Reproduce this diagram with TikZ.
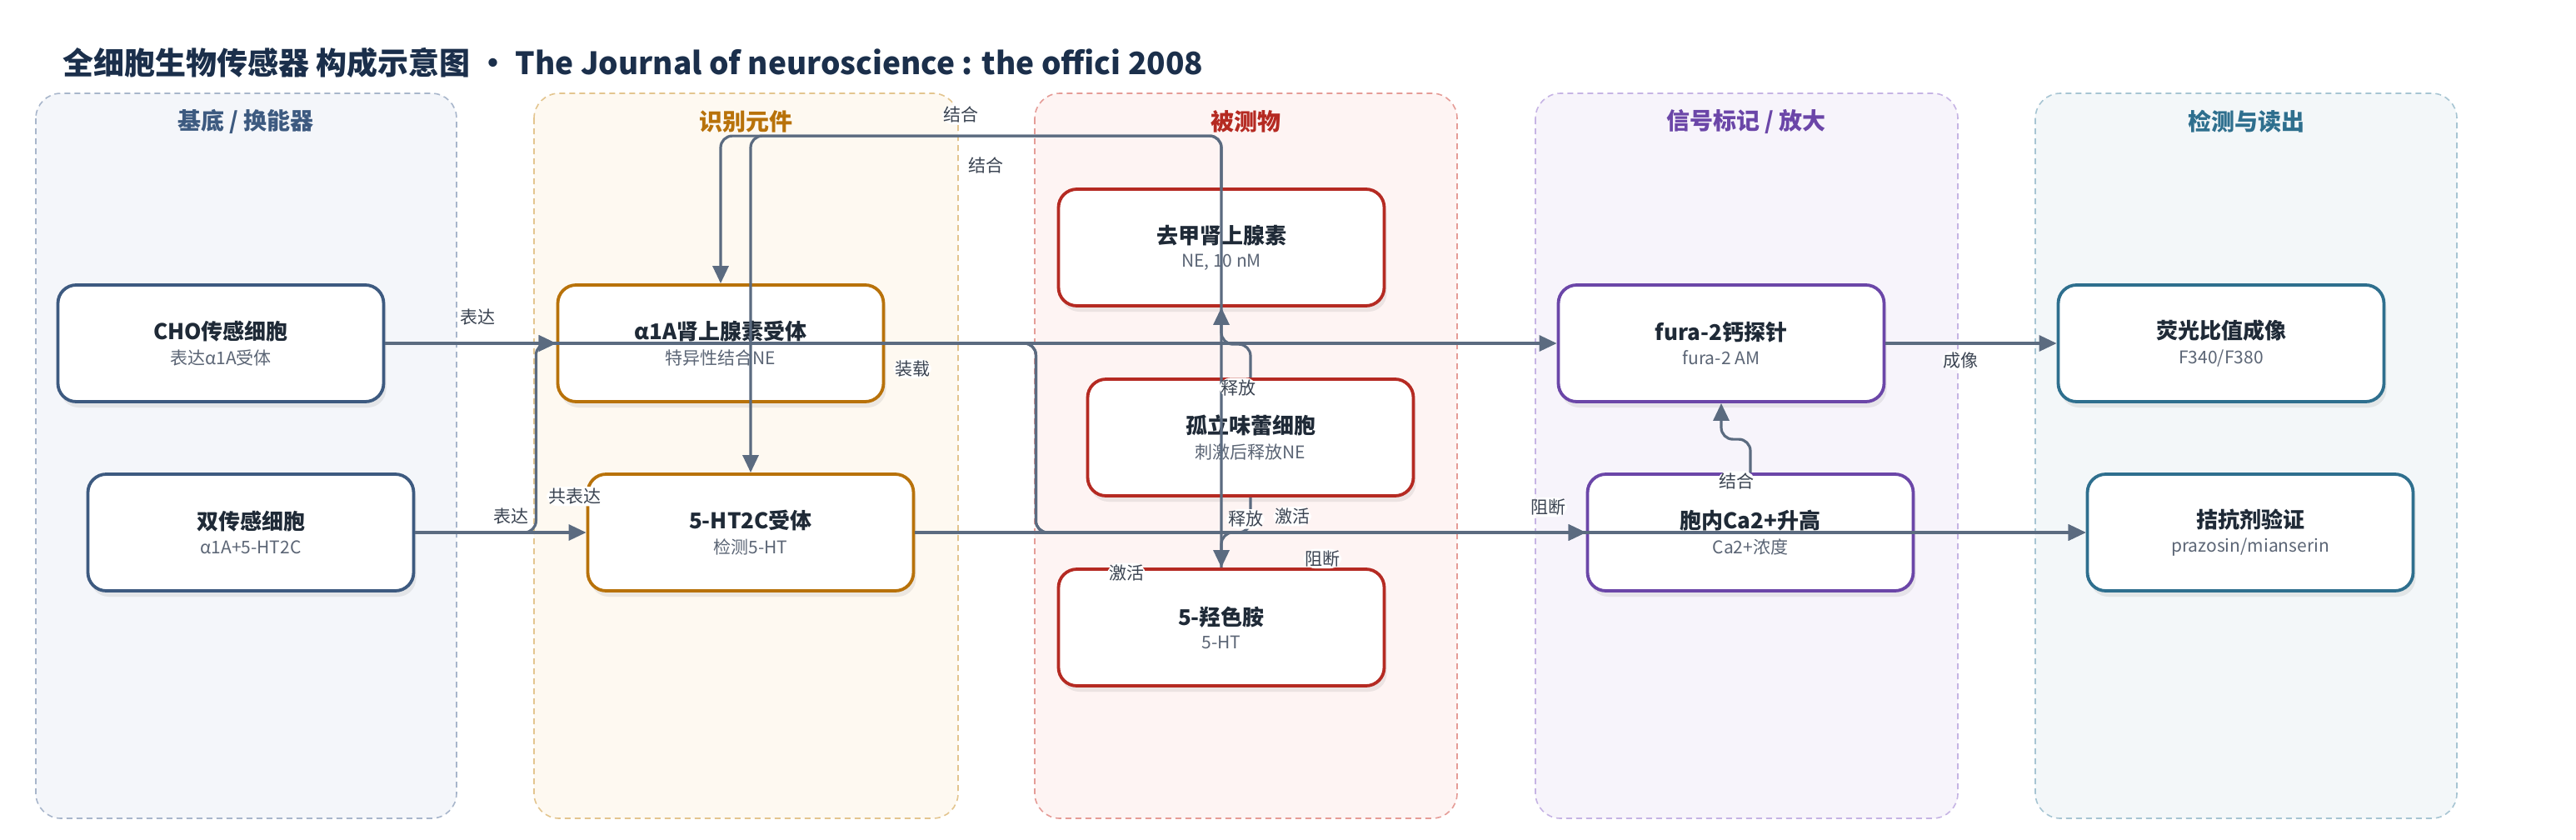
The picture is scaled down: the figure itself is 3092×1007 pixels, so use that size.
\documentclass[tikz,border=0pt]{standalone}
\usepackage{fontspec}
\setmainfont{Noto Sans CJK SC}
\usetikzlibrary{arrows.meta,shadows}

\definecolor{titlec}{HTML}{1B2F4B}
\definecolor{edgec}{HTML}{5B6B80}
\definecolor{lblc}{HTML}{3B4452}
\definecolor{namec}{HTML}{1F2A37}
\definecolor{subc}{HTML}{5B6575}
\definecolor{srcc}{HTML}{3D5A80}
\definecolor{srcf}{HTML}{F4F6FA}
\definecolor{srcd}{HTML}{A8B6CB}
\definecolor{recc}{HTML}{B8720A}
\definecolor{recf}{HTML}{FEF9F1}
\definecolor{recd}{HTML}{E3C58F}
\definecolor{anac}{HTML}{B52A22}
\definecolor{anaf}{HTML}{FEF4F3}
\definecolor{anad}{HTML}{E59C97}
\definecolor{sigc}{HTML}{6B46A8}
\definecolor{sigf}{HTML}{F7F4FB}
\definecolor{sigd}{HTML}{C6B4E4}
\definecolor{detc}{HTML}{2E6F8E}
\definecolor{detf}{HTML}{F3F7F9}
\definecolor{detd}{HTML}{A7C5D3}

\newcommand{\boxtext}[2]{{\fontsize{26pt}{30pt}\selectfont\bfseries\color{namec}#1}\\[9pt]{\fontsize{21pt}{25pt}\selectfont\color{subc}#2}}

\begin{document}
\begin{tikzpicture}[x=1pt,y=-1pt,>={Triangle[length=21pt,width=19pt]},node distance=600pt,
		base node/.style={rectangle,rounded corners=22pt,draw,line width=3.8pt,fill=white,minimum width=391pt,minimum height=140pt,align=center,drop shadow={shadow xshift=3pt,shadow yshift=-7pt,opacity=.14}},
		src node/.style={base node,draw=srcc},
		rec node/.style={base node,draw=recc},
		ana node/.style={base node,draw=anac},
		sig node/.style={base node,draw=sigc},
		det node/.style={base node,draw=detc},
		lane/.style={rounded corners=30pt,dash pattern=on 7pt off 5pt,line width=1.6pt},
		lane title/.style={font=\fontsize{28pt}{32pt}\selectfont\bfseries},
		flow/.style={->,color=edgec,line width=3.2pt,rounded corners=14pt},
		lbl/.style={fill=white,inner sep=2pt,text=lblc,font=\fontsize{21pt}{24pt}\selectfont}]
		\useasboundingbox (0,0) rectangle (3092,1007);
		
		\node[anchor=base west,inner sep=0pt,text=titlec,font=\fontsize{37pt}{42pt}\selectfont\bfseries] (title) at (75,89) {全细胞生物传感器 构成示意图 · The Journal of neuroscience : the offici 2008};
		
		% 分区
		\path[lane,fill=srcf,draw=srcd] (43,112) rectangle (548,982);
		\path[lane,fill=recf,draw=recd] (641,112) rectangle (1150,982);
		\path[lane,fill=anaf,draw=anad] (1242,112) rectangle (1749,982);
		\path[lane,fill=sigf,draw=sigd] (1843,112) rectangle (2350,982);
		\path[lane,fill=detf,draw=detd] (2443,112) rectangle (2949,982);
		\node[lane title,text=srcc] (lt1) at (295,146) {基底 / 换能器};
		\node[lane title,text=recc] (lt2) at (895,146) {识别元件};
		\node[lane title,text=anac] (lt3) at (1495,146) {被测物};
		\node[lane title,text=sigc] (lt4) at (2096,146) {信号标记 / 放大};
		\node[lane title,text=detc] (lt5) at (2696,146) {检测与读出};
		
		% 第一行
		\node[src node] (cho) at (265,412) {\boxtext{CHO传感细胞}{表达α1A受体}};
		\node[rec node] (ar) [right of= cho]{\boxtext{α1A肾上腺素受体}{特异性结合NE}};
		\node[sig node] (fura) [right of= ar, node distance=1201pt]{\boxtext{fura-2钙探针}{fura-2 AM}};
		\node[det node] (img) [right of= fura]{\boxtext{荧光比值成像}{F340/F380}};
		
		% 第二行
		\node[src node] (dual) at (301,639) {\boxtext{双传感细胞}{α1A+5-HT2C}};
		\node[rec node] (htr) [right of= dual]{\boxtext{5-HT2C受体}{检测5-HT}};
		\node[sig node] (ca) [right of= htr, node distance=1200pt]{\boxtext{胞内Ca2+升高}{Ca2+浓度}};
		\node[det node] (ant) [right of= ca]{\boxtext{拮抗剂验证}{prazosin/mianserin}};
		
		% 被测物
		\node[ana node] (ne) at (1466,297) {\boxtext{去甲肾上腺素}{NE, 10 nM}};
		\node[ana node] (tc) [below of= ne, node distance=228pt, xshift=35pt]{\boxtext{孤立味蕾细胞}{刺激后释放NE}};
		\node[ana node] (ht) [below of= tc, node distance=228pt, xshift=-35pt]{\boxtext{5-羟色胺}{5-HT}};
		
		% 结合
		\draw[flow] (ht.north) -- ++(0,-518) -| node[lbl,pos=.25,below=22pt]{结合} (htr.north);
		\draw[flow] (ne.north) -- ++(0,-62) -| node[lbl,pos=.26,above=12pt]{结合} (ar.north);
		
		\path[flow]
		(cho) edge node[lbl,pos=.45,below=17pt] {装载} (fura)
		(htr) edge node[lbl,pos=.348,below=18pt] {阻断} (ant)
		(htr) edge node[lbl,pos=.315,below=35pt] {激活} (ca)
		(cho) edge node[lbl,pos=.54,above=18pt] {表达} (ar)
		(dual) edge node[lbl,pos=.56,above=6pt] {表达} (htr)
		(fura) edge node[lbl,pos=.44,below=7pt] {成像} (img);
		
		% 受体到钙
		\draw[flow] (ar.east) -- ++(181,0) |- node[lbl,pos=.744,above=17pt]{阻断} (ant.west);
		\draw[flow] (ar.east) -- ++(181,0) |- node[lbl,pos=.733,above=6pt]{激活} (ca.west);
		\draw[flow] (dual.east) -- ++(145,0) node[lbl,anchor=south west,xshift=11pt,yshift=30pt]{共表达} |- (ar.west);
		
		% 释放
		\draw[flow] (tc.north) -- ++(0,-40) node[lbl,pos=0,xshift=-15pt,yshift=-12pt]{释放} -| (ne.south);
		\draw[flow] (tc.south) -- ++(0,42) node[lbl,pos=0,xshift=-6pt,yshift=-26pt]{释放} -| (ht.north);
		\draw[flow] (ca.north) -- ++(0,-40) node[lbl,pos=0,xshift=-17pt,yshift=-10pt]{结合} -| (fura.south);
		
		\end{tikzpicture}
\end{document}
